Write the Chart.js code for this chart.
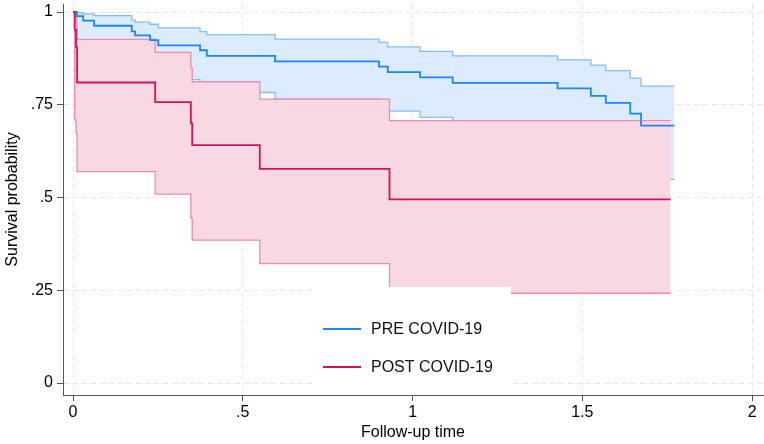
<!DOCTYPE html>
<html>
<head>
<meta charset="utf-8">
<script src="https://cdn.jsdelivr.net/npm/chart.js@4/dist/chart.umd.min.js"></script>
<style>
  html, body { margin: 0; padding: 0; background: #fff; }
  #chartKM { display: block; }
</style>
</head>
<body>
<canvas id="chartKM" width="764" height="444"></canvas>
<script>
const xTicks = [0, 0.5, 1, 1.5, 2];
const xTickLabels = ['0', '.5', '1', '1.5', '2'];
const yTicks = [0, 0.25, 0.5, 0.75, 1];
const yTickLabels = ['0', '.25', '.5', '.75', '1'];

const groupNames = ['PRE COVID-19', 'POST COVID-19'];

// PRE COVID-19 : Kaplan-Meier estimate and 95% CI
const preTime  = [0, 0.011, 0.030, 0.062, 0.173, 0.183, 0.227, 0.251, 0.374, 0.394, 0.595, 0.901, 0.927, 1.022, 1.118, 1.427, 1.525, 1.569, 1.641, 1.673, 1.771];
const preSurv  = [1, 0.989, 0.977, 0.963, 0.948, 0.937, 0.924, 0.910, 0.897, 0.882, 0.867, 0.853, 0.838, 0.824, 0.809, 0.794, 0.774, 0.755, 0.726, 0.694, 0.694];
const preUpper = [1, 0.998, 0.995, 0.990, 0.978, 0.973, 0.967, 0.957, 0.947, 0.939, 0.927, 0.918, 0.906, 0.894, 0.882, 0.871, 0.857, 0.842, 0.822, 0.800, 0.800];
const preLower = [1, 0.925, 0.908, 0.888, 0.868, 0.855, 0.840, 0.818, 0.800, 0.783, 0.766, 0.750, 0.733, 0.716, 0.700, 0.682, 0.660, 0.637, 0.605, 0.549, 0.549];

// POST COVID-19
const postTime  = [0, 0.005, 0.009, 0.012, 0.242, 0.347, 0.351, 0.550, 0.932, 1.760];
const postSurv  = [1, 0.952, 0.905, 0.810, 0.757, 0.700, 0.641, 0.577, 0.495, 0.495];
const postUpper = [1, 0.993, 0.975, 0.926, 0.891, 0.850, 0.812, 0.765, 0.707, 0.707];
const postLower = [1, 0.709, 0.674, 0.570, 0.509, 0.444, 0.385, 0.322, 0.242, 0.242];

const lineColors = ['rgb(26,133,255)', 'rgb(212,17,89)'];
const ciColors = ['rgb(135,188,250)', 'rgb(236,140,175)'];
const areaColors = ['rgb(220,235,253)', 'rgb(248,216,227)'];

const pts = (t, v) => t.map((x, i) => ({ x: x, y: v[i] }));

Chart.defaults.font.family = '"Liberation Sans", Arial, sans-serif';
Chart.defaults.font.size = 16;
Chart.defaults.color = '#000';

// legend box sitting inside the plot, like Stata's ring(0) legend
const boxLegend = {
    id: 'boxLegend',
    afterDatasetsDraw(chart) {
        const { ctx, chartArea } = chart;
        const cx = (chartArea.left + chartArea.right) / 2;
        const left = cx - 98, right = cx + 98;
        const top = chartArea.bottom - 108, bottom = chartArea.bottom - 1;
        ctx.save();
        ctx.fillStyle = '#fff';
        ctx.fillRect(left, top, right - left, bottom - top);
        ctx.font = '16px "Liberation Sans", Arial, sans-serif';
        ctx.textBaseline = 'middle';
        groupNames.forEach((name, i) => {
            const y = top + 42 + i * 38;
            ctx.strokeStyle = lineColors[i];
            ctx.lineWidth = 2;
            ctx.beginPath();
            ctx.moveTo(left + 8, y);
            ctx.lineTo(left + 46, y);
            ctx.stroke();
            ctx.fillStyle = '#111';
            ctx.fillText(name, left + 56, y + 1);
        });
        ctx.restore();
    }
};

const step = 'before';

const data = {
    datasets: [
        { label: 'pre upper', data: pts(preTime, preUpper), borderColor: ciColors[0], borderWidth: 1.3,
          backgroundColor: areaColors[0], fill: 1, stepped: step, order: 6 },
        { label: 'pre lower', data: pts(preTime, preLower), borderColor: ciColors[0], borderWidth: 1.3,
          fill: false, stepped: step, order: 5 },
        { label: 'post upper', data: pts(postTime, postUpper), borderColor: ciColors[1], borderWidth: 1.3,
          backgroundColor: areaColors[1], fill: 3, stepped: step, order: 4 },
        { label: 'post lower', data: pts(postTime, postLower), borderColor: ciColors[1], borderWidth: 1.3,
          fill: false, stepped: step, order: 3 },
        { label: groupNames[0], data: pts(preTime, preSurv), borderColor: lineColors[0], borderWidth: 1.8,
          fill: false, stepped: step, order: 2 },
        { label: groupNames[1], data: pts(postTime, postSurv), borderColor: lineColors[1], borderWidth: 1.8,
          fill: false, stepped: step, order: 1 }
    ]
};

const config = {
    type: 'line',
    data,
    options: {
        responsive: false,
        animation: false,
        devicePixelRatio: 1,
        layout: { padding: { left: 0, right: 1, top: 4, bottom: 0 } },
        elements: { point: { radius: 0 } },
        plugins: {
            legend: { display: false },
            tooltip: { enabled: false }
        },
        scales: {
            x: {
                type: 'linear',
                min: -0.0295,
                max: 2.032,
                afterBuildTicks: s => { s.ticks = xTicks.map(v => ({ value: v })); },
                afterFit: s => { s.height = 49; s.paddingLeft = 0; s.paddingRight = 0; },
                ticks: { callback: (v, i) => xTickLabels[i], padding: 2, maxRotation: 0 },
                grid: { color: '#e6e6e6', tickColor: '#555', tickLength: 6, lineWidth: 1 },
                border: { color: '#555', width: 1, dash: [5, 4] },
                title: { display: true, text: 'Follow-up time', padding: { top: 2, bottom: 2 } }
            },
            y: {
                min: -0.0323,
                max: 1.0216,
                afterBuildTicks: s => { s.ticks = yTicks.map(v => ({ value: v })); },
                afterFit: s => { s.width = 63; s.paddingTop = 0; s.paddingBottom = 0; },
                ticks: { callback: (v, i) => yTickLabels[i], padding: 4 },
                grid: { color: '#e6e6e6', tickColor: '#555', tickLength: 6, lineWidth: 1 },
                border: { color: '#555', width: 1, dash: [5, 4] },
                title: { display: true, text: 'Survival probability', padding: { top: 3, bottom: 2 } }
            }
        }
    },
    plugins: [boxLegend]
};

const chartKM = new Chart(document.getElementById('chartKM'), config);
</script>
</body>
</html>
